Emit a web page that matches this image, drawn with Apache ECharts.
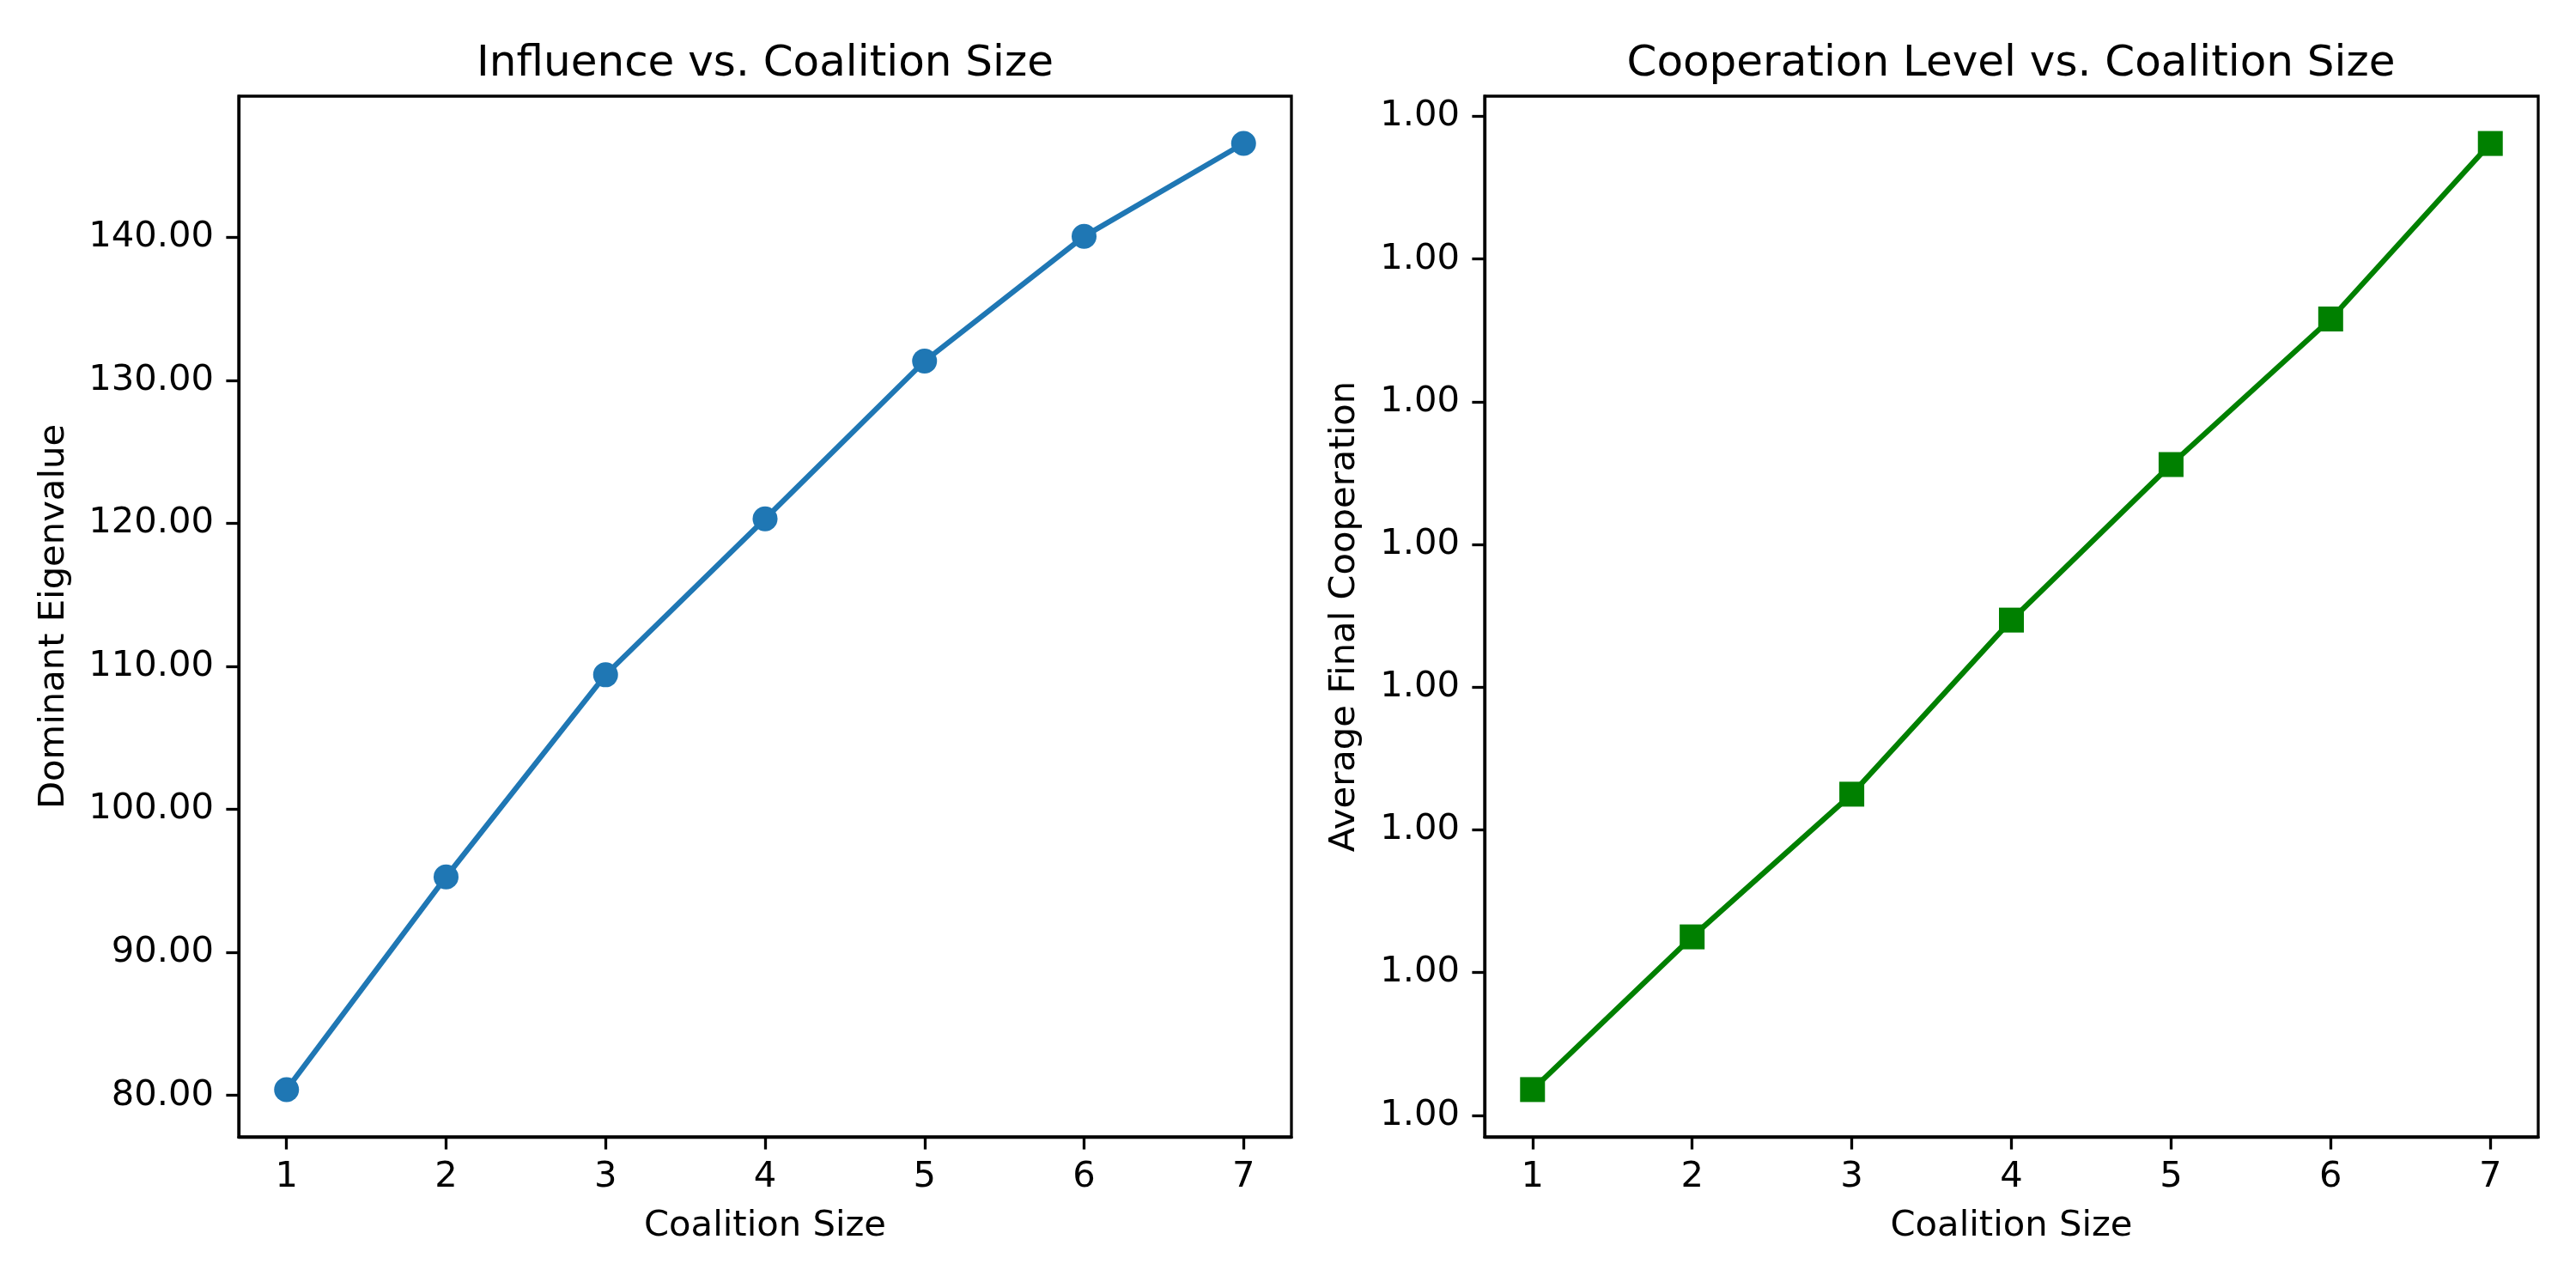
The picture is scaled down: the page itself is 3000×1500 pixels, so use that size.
<!DOCTYPE html>
<html>
<head>
<meta charset="utf-8">
<script src="https://cdn.jsdelivr.net/npm/echarts@6/dist/echarts.min.js"></script>
<style>
  html, body { margin: 0; padding: 0; background: #fff; }
  #main { width: 3000px; height: 1500px; }
</style>
</head>
<body>
<div id="main"></div>
<script>
// values
const coalitionSizes = [1, 2, 3, 4, 5, 6, 7];
const eigenvalues = [80.41, 95.28, 109.41, 120.32, 131.34, 140.07, 146.56];
const cooperation = [0.9999318, 0.9999425, 0.9999525, 0.9999647, 0.9999756, 0.9999858, 0.9999981];

const sizeTicks = [1, 2, 3, 4, 5, 6, 7];
const eigenTicks = [80, 90, 100, 110, 120, 130, 140];
const coopTicks = [0.99993, 0.99994, 0.99995, 0.99996, 0.99997, 0.99998, 0.99999, 1.0];

const FONT = 'DejaVu Sans';
const LW = 3.3;

// matplotlib-like 5% padding around the data
function padMin(e) { return e.min - 0.05 * (e.max - e.min); }
function padMax(e) { return e.max + 0.05 * (e.max - e.min); }

function pairs(xs, ys) {
  return xs.map(function (x, i) { return [x, ys[i]]; });
}

function xAxisFor(idx, name) {
  return {
    type: 'value',
    gridIndex: idx,
    min: padMin,
    max: padMax,
    name: name,
    nameLocation: 'middle',
    nameGap: 83,
    nameTextStyle: { fontFamily: FONT, fontSize: 41.7, color: '#000' },
    axisLine: { show: true, lineStyle: { color: '#000', width: LW } },
    axisTick: { show: true, length: 14.6, customValues: sizeTicks, lineStyle: { color: '#000', width: LW } },
    axisLabel: { customValues: sizeTicks, margin: 26, fontFamily: FONT, fontSize: 41.7, color: '#000' },
    splitLine: { show: false }
  };
}

function yAxisFor(idx, name, ticks, gap) {
  return {
    type: 'value',
    gridIndex: idx,
    min: padMin,
    max: padMax,
    name: name,
    nameLocation: 'middle',
    nameGap: gap,
    nameRotate: 90,
    nameTextStyle: { fontFamily: FONT, fontSize: 41.7, color: '#000' },
    axisLine: { show: true, lineStyle: { color: '#000', width: LW } },
    axisTick: { show: true, length: 14.6, customValues: ticks, lineStyle: { color: '#000', width: LW } },
    axisLabel: {
      customValues: ticks, margin: 29, fontFamily: FONT, fontSize: 41.7, color: '#000',
      formatter: function (v) { return Number(v).toFixed(2); }
    },
    splitLine: { show: false }
  };
}

const chart = echarts.init(document.getElementById('main'), null, { renderer: 'canvas' });

const option = {
  animation: false,
  backgroundColor: '#fff',
  title: [
    {
      text: 'Influence vs. Coalition Size',
      left: 886, top: 45, textAlign: 'center',
      textStyle: { fontFamily: FONT, fontSize: 50, fontWeight: 'normal', color: '#000' }
    },
    {
      text: 'Cooperation Level vs. Coalition Size',
      left: 2337, top: 45, textAlign: 'center',
      textStyle: { fontFamily: FONT, fontSize: 50, fontWeight: 'normal', color: '#000' }
    }
  ],
  grid: [
    { left: 278, top: 112, width: 1226, height: 1212, show: true, borderColor: '#000', borderWidth: LW, outerBoundsMode: 'none' },
    { left: 1729, top: 112, width: 1227, height: 1212, show: true, borderColor: '#000', borderWidth: LW, outerBoundsMode: 'none' }
  ],
  xAxis: [
    xAxisFor(0, 'Coalition Size'),
    xAxisFor(1, 'Coalition Size')
  ],
  yAxis: [
    yAxisFor(0, 'Dominant Eigenvalue', eigenTicks, 194),
    yAxisFor(1, 'Average Final Cooperation', coopTicks, 142)
  ],
  series: [
    {
      type: 'line',
      xAxisIndex: 0, yAxisIndex: 0,
      data: pairs(coalitionSizes, eigenvalues),
      symbol: 'circle', symbolSize: 29, showAllSymbol: true,
      itemStyle: { color: '#1f77b4' },
      lineStyle: { color: '#1f77b4', width: 6.25 }
    },
    {
      type: 'line',
      xAxisIndex: 1, yAxisIndex: 1,
      data: pairs(coalitionSizes, cooperation),
      symbol: 'rect', symbolSize: 29, showAllSymbol: true,
      itemStyle: { color: '#008000' },
      lineStyle: { color: '#008000', width: 6.25 }
    }
  ]
};

chart.setOption(option);
</script>
</body>
</html>
